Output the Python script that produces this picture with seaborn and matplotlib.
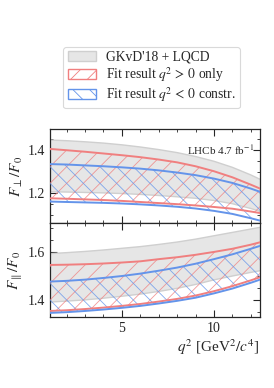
import numpy as np
import pandas as pd
import matplotlib
matplotlib.use("Agg")
import matplotlib.pyplot as plt
from matplotlib.patches import Patch
from matplotlib.ticker import MultipleLocator
import seaborn as sns

sns.set_style("ticks")
plt.rcParams['font.family'] = ['Liberation Serif', 'DejaVu Serif']
plt.rcParams['mathtext.fontset'] = 'stix'
plt.rcParams['hatch.linewidth'] = 0.6

q2 = [1.1, 2, 3, 4, 5, 6, 7, 8, 9, 10, 11, 12, 12.5]

# F_perp / F_0
perp_gkvd_lo = [1.207, 1.206, 1.204, 1.202, 1.199, 1.195, 1.190, 1.184, 1.177, 1.167, 1.152, 1.130, 1.117]
perp_gkvd_hi = [1.446, 1.443, 1.438, 1.432, 1.424, 1.414, 1.402, 1.388, 1.370, 1.348, 1.320, 1.285, 1.265]
perp_pos_lo = [1.177, 1.175, 1.172, 1.169, 1.165, 1.160, 1.155, 1.150, 1.144, 1.137, 1.129, 1.116, 1.109]
perp_pos_hi = [1.405, 1.399, 1.392, 1.384, 1.376, 1.367, 1.356, 1.343, 1.325, 1.302, 1.274, 1.240, 1.222]
perp_neg_lo = [1.162, 1.160, 1.158, 1.156, 1.153, 1.149, 1.144, 1.138, 1.130, 1.119, 1.105, 1.085, 1.074]
perp_neg_hi = [1.335, 1.333, 1.329, 1.325, 1.320, 1.314, 1.306, 1.296, 1.284, 1.268, 1.248, 1.222, 1.207]

# F_par / F_0
par_gkvd_lo = [1.392, 1.396, 1.401, 1.408, 1.416, 1.425, 1.436, 1.449, 1.465, 1.484, 1.500, 1.515, 1.522]
par_gkvd_hi = [1.593, 1.597, 1.602, 1.608, 1.615, 1.622, 1.631, 1.641, 1.653, 1.667, 1.681, 1.695, 1.702]
par_pos_lo = [1.355, 1.358, 1.363, 1.369, 1.376, 1.384, 1.394, 1.405, 1.419, 1.437, 1.458, 1.482, 1.495]
par_pos_hi = [1.546, 1.547, 1.549, 1.552, 1.556, 1.561, 1.570, 1.578, 1.588, 1.600, 1.613, 1.630, 1.640]
par_neg_lo = [1.347, 1.350, 1.355, 1.361, 1.368, 1.376, 1.386, 1.397, 1.410, 1.428, 1.448, 1.472, 1.485]
par_neg_hi = [1.477, 1.480, 1.485, 1.492, 1.500, 1.510, 1.522, 1.535, 1.551, 1.570, 1.590, 1.613, 1.625]

gray_fill = '#e6e6e6'
gray_edge = '#cfcfcf'
red = '#f07f7f'
blue = '#6494ea'

fig = plt.figure(figsize=(2.74, 3.88), dpi=100)
ax1 = fig.add_axes([50/274, 165/388, 210/274, 94/388])
ax2 = fig.add_axes([50/274, 71/388, 210/274, 94/388], sharex=ax1)


def draw_panel(ax, glo, ghi, plo, phi, nlo, nhi):
    ax.fill_between(q2, glo, ghi, facecolor=gray_fill, edgecolor='none', zorder=1)
    for y in (glo, ghi):
        sns.lineplot(x=q2, y=y, ax=ax, color=gray_edge, lw=1.0, zorder=2)
    ax.fill_between(q2, plo, phi, facecolor='none', edgecolor=(0.94, 0.5, 0.5, 0.8),
                    hatch='//', linewidth=0, zorder=3)
    ax.fill_between(q2, nlo, nhi, facecolor='none', edgecolor=(0.39, 0.58, 0.92, 0.8),
                    hatch='\\\\', linewidth=0, zorder=3)
    for y in (plo, phi):
        sns.lineplot(x=q2, y=y, ax=ax, color=red, lw=1.4, zorder=4)
    for y in (nlo, nhi):
        sns.lineplot(x=q2, y=y, ax=ax, color=blue, lw=1.4, zorder=5)
    ax.tick_params(which='both', direction='in', top=True, right=True, labelsize=10)
    ax.tick_params(which='major', length=5, width=0.8)
    ax.tick_params(which='minor', length=2.5, width=0.6)
    ax.xaxis.set_major_locator(MultipleLocator(5))
    ax.xaxis.set_minor_locator(MultipleLocator(1))
    ax.yaxis.set_major_locator(MultipleLocator(0.2))
    ax.yaxis.set_minor_locator(MultipleLocator(0.05))
    for s in ax.spines.values():
        s.set_linewidth(0.9)


draw_panel(ax1, perp_gkvd_lo, perp_gkvd_hi, perp_pos_lo, perp_pos_hi, perp_neg_lo, perp_neg_hi)
draw_panel(ax2, par_gkvd_lo, par_gkvd_hi, par_pos_lo, par_pos_hi, par_neg_lo, par_neg_hi)

ax1.set_xlim(1.1, 12.5)
ax1.set_ylim(1.063, 1.497)
ax2.set_ylim(1.33, 1.72)
ax1.tick_params(labelbottom=False)

ax1.set_ylabel(r'$F_{\perp}/F_0$', fontsize=11, labelpad=2)
ax2.set_ylabel(r'$F_{\parallel}/F_0$', fontsize=11, labelpad=2)
ax2.set_xlabel(r'$q^2$ [GeV$^2/c^4$]', fontsize=11, loc='right', labelpad=2)
ax1.text(0.97, 0.78, r'LHCb 4.7 fb$^{-1}$', transform=ax1.transAxes,
         ha='right', va='center', fontsize=8)

handles = [
    Patch(facecolor=gray_fill, edgecolor=gray_edge, label="GKvD'18 + LQCD"),
    Patch(facecolor='none', edgecolor=red, hatch='//', label=r'Fit result $q^2\,>\,0$ only'),
    Patch(facecolor='none', edgecolor=blue, hatch='\\\\', label=r'Fit result $q^2\,<\,0$ constr.'),
]
leg = fig.legend(handles=handles, loc='upper center', bbox_to_anchor=(151.5/274, 1 - 40/388),
                 fontsize=9.8, frameon=True, fancybox=True, handlelength=2.1,
                 handleheight=0.75, labelspacing=0.1, borderpad=0.3, handletextpad=0.7)
leg.get_frame().set_edgecolor('#d0d0d0')
leg.get_frame().set_linewidth(0.8)

fig.savefig('out.png', dpi=100)
